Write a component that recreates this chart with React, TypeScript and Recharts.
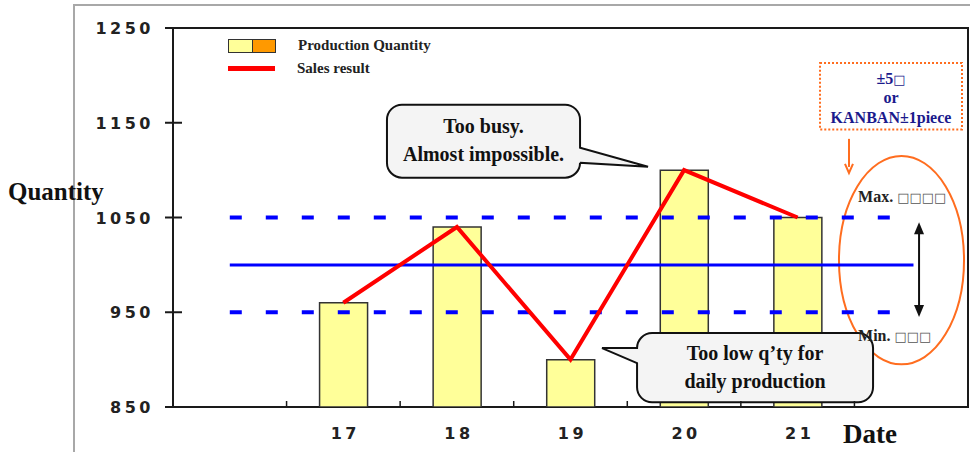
import React from "react";
import {
  ComposedChart,
  Bar,
  Line,
  XAxis,
  YAxis,
  ReferenceLine,
  ReferenceArea,
  ReferenceDot,
  Legend,
  Label,
} from "recharts";

document.body.style.margin = "0";

// production days and the two daily series
const dates = ["", "17", "18", "19", "20", "21", ""];
const production = [null, 960, 1040, 900, 1100, 1050, null];
const sales = [null, 960, 1040, 900, 1100, 1050, null];
const qtyTicks = [850, 950, 1050, 1150, 1250];
const target = 1000;
const upperLimit = 1050;
const lowerLimit = 950;

// "slot" is the centre of each day's band on the numeric overlay axis
const data = dates.map((date, i) => ({
  date,
  slot: i + 0.5,
  production: production[i],
  sales: sales[i],
}));

const SERIF = "'Liberation Serif', 'Times New Roman', serif";
const WIDE = "'DejaVu Sans', sans-serif";
const INK = "#1a1a1a";
const BLUE = "#0000ff";
const ORANGE = "#ff6d1f";
const NAVY = "#1a1a8c";

function QtyTick({ x, y, payload }: any) {
  return (
    <g>
      <line x1={x - 8} x2={x + 9} y1={y} y2={y} stroke={INK} strokeWidth={2} />
      <text
        x={x - 19}
        y={y}
        dy={6}
        textAnchor="end"
        fontFamily={WIDE}
        fontWeight={700}
        fontSize={16}
        letterSpacing={3.5}
        fill="#222"
      >
        {payload.value}
      </text>
    </g>
  );
}

// day label, plus a short upward tick on the left edge of its band
function DayTick({ x, y, payload, index }: any) {
  const edge = x - (payload.offset || 0);
  return (
    <g>
      {index > 0 && <line x1={edge} x2={edge} y1={y} y2={y - 6} stroke={INK} strokeWidth={1.5} />}
      <text
        x={x + 2}
        y={y + 32}
        textAnchor="middle"
        fontFamily={WIDE}
        fontWeight={700}
        fontSize={16}
        letterSpacing={3.5}
        fill="#222"
      >
        {payload.value}
      </text>
    </g>
  );
}

function SeriesKey({ payload }: any) {
  return (
    <div style={{ fontFamily: SERIF, fontWeight: 700, fontSize: 15, color: "#222" }}>
      {(payload || []).map((entry: any) => (
        <div key={entry.value} style={{ display: "flex", alignItems: "center", height: 23 }}>
          {entry.type === "line" ? (
            <span style={{ display: "inline-block", width: 47, height: 5, background: entry.color }} />
          ) : (
            <span style={{ display: "inline-flex", border: "1px solid #333" }}>
              <span style={{ width: 23, height: 12, background: "#ffff99", borderRight: "1px solid #333" }} />
              <span style={{ width: 22, height: 12, background: "#ff9900" }} />
            </span>
          )}
          <span style={{ marginLeft: 22 }}>{entry.value}</span>
        </div>
      ))}
    </div>
  );
}

// speech balloon: rounded box with a pointed tail on one side
function balloonPath(x: number, y: number, w: number, h: number, r: number, tail: any) {
  const right = x + w;
  const bottom = y + h;
  let d = `M${x + r},${y} H${right - r} A${r},${r} 0 0 1 ${right},${y + r}`;
  if (tail.side === "right") {
    d += ` V${y + tail.from} L${right + tail.dx},${y + tail.dy} L${right},${y + tail.to}`;
  }
  d += ` V${bottom - r} A${r},${r} 0 0 1 ${right - r},${bottom} H${x + r} A${r},${r} 0 0 1 ${x},${bottom - r}`;
  if (tail.side === "left") {
    d += ` V${y + tail.to} L${x - tail.dx},${y + tail.dy} L${x},${y + tail.from}`;
  }
  d += ` V${y + r} A${r},${r} 0 0 1 ${x + r},${y} Z`;
  return d;
}

// drawn through a ReferenceLine whose segment runs corner to corner
const callout = (lines: string[], tail: any) => (props: any) => {
  const x = Math.min(props.x1, props.x2);
  const y = Math.min(props.y1, props.y2);
  const width = Math.abs(props.x2 - props.x1);
  const height = Math.abs(props.y2 - props.y1);
  const cx = x + width / 2;
  const mid = y + height / 2;
  return (
    <g>
      <path
        d={balloonPath(x, y, width, height, 15, tail)}
        fill="#f4f4f4"
        stroke="#111"
        strokeWidth={2}
      />
      {lines.map((t, i) => (
        <text
          key={t}
          x={cx}
          y={mid + (i - (lines.length - 1) / 2) * 28 + 6}
          textAnchor="middle"
          fontFamily={SERIF}
          fontWeight={700}
          fontSize={20}
          fill="#111"
        >
          {t}
        </text>
      ))}
    </g>
  );
};

const EllipseShape = ({ x, y, width, height }: any) => (
  <ellipse
    cx={x + width / 2}
    cy={y + height / 2}
    rx={width / 2}
    ry={height / 2}
    fill="none"
    stroke={ORANGE}
    strokeWidth={2}
  />
);

const ToleranceNote = ({ x, y, width, height }: any) => {
  const cx = x + width / 2;
  const common = { x: cx, textAnchor: "middle" as const, fontFamily: SERIF, fontWeight: 700, fontSize: 16, fill: NAVY };
  return (
    <g>
      <rect x={x} y={y} width={width} height={height} fill="#fff" stroke={ORANGE} strokeWidth={2} strokeDasharray="2 2" />
      <text {...common} y={y + 21}>
        ±5<tspan fontFamily={WIDE} fontWeight={400} fontSize={13}>□</tspan>
      </text>
      <text {...common} y={y + 40}>or</text>
      <text {...common} y={y + 60}>KANBAN±1piece</text>
    </g>
  );
};

const DownArrow = ({ x1, y1, x2, y2 }: any) => (
  <g>
    <line x1={x1} y1={y1} x2={x2} y2={y2 - 6} stroke={ORANGE} strokeWidth={2} />
    <path d={`M${x2 - 4},${y2 - 9} L${x2},${y2} L${x2 + 4},${y2 - 9}`} fill="none" stroke={ORANGE} strokeWidth={2} />
  </g>
);

const RangeArrow = ({ x1, y1, x2, y2 }: any) => (
  <g>
    <line x1={x1} y1={y1 + 8} x2={x2} y2={y2 - 8} stroke="#111" strokeWidth={2} />
    <path d={`M${x1 - 5},${y1 + 12} L${x1},${y1} L${x1 + 5},${y1 + 12} Z`} fill="#111" />
    <path d={`M${x2 - 5},${y2 - 12} L${x2},${y2} L${x2 + 5},${y2 - 12} Z`} fill="#111" />
  </g>
);

const limitText = (head: string, boxes: string) => ({ cx, cy }: any) => (
  <text x={cx} y={cy} fontFamily={SERIF} fontWeight={700} fontSize={16} fill="#222">
    {head}{" "}
    <tspan fontFamily={WIDE} fontWeight={400} fontSize={13} fill="#555">
      {boxes}
    </tspan>
  </text>
);

const QuantityTitle = ({ viewBox }: any) =>
  viewBox ? (
    <text x={viewBox.x - 85} y={viewBox.y + 172} fontFamily={SERIF} fontWeight={700} fontSize={25} fill="#111">
      Quantity
    </text>
  ) : null;

const DateTitle = ({ viewBox }: any) =>
  viewBox ? (
    <text x={viewBox.x + 670} y={viewBox.y + 36} fontFamily={SERIF} fontWeight={700} fontSize={27} fill="#111">
      Date
    </text>
  ) : null;

export default function App() {
  return (
    <div style={{ position: "relative", width: 970, height: 452, overflow: "hidden", background: "#fff" }}>
      <div
        style={{
          position: "absolute",
          left: 73,
          top: 4,
          width: 920,
          height: 470,
          borderTop: "2px solid #a8a8a8",
          borderLeft: "2px solid #a8a8a8",
        }}
      />
      <div style={{ position: "absolute", left: 0, top: 0 }}>
        <ComposedChart width={970} height={452} data={data} margin={{ top: 28, right: 2, bottom: 0, left: 93 }}>
          <XAxis
            xAxisId="num"
            dataKey="slot"
            type="number"
            domain={[0, 7]}
            allowDataOverflow
            tick={false}
            tickLine={false}
            height={0}
            axisLine={{ stroke: INK, strokeWidth: 2 }}
          />
          <XAxis
            dataKey="date"
            height={45}
            interval={0}
            tickSize={0}
            tickMargin={0}
            axisLine={false}
            tickLine={false}
            tick={<DayTick />}
          >
            <Label content={<DateTitle />} />
          </XAxis>
          <YAxis
            width={80}
            domain={[850, 1250]}
            ticks={qtyTicks}
            allowDataOverflow
            interval={0}
            tickSize={0}
            tickMargin={0}
            tickLine={false}
            axisLine={{ stroke: INK, strokeWidth: 2 }}
            tick={<QtyTick />}
          >
            <Label content={<QuantityTitle />} />
          </YAxis>
          <Legend
            layout="vertical"
            align="center"
            verticalAlign="middle"
            width={260}
            wrapperStyle={{ left: 228, top: 34 }}
            content={<SeriesKey />}
          />
          <ReferenceArea
            xAxisId="num"
            x1={0}
            x2={7}
            y1={850}
            y2={1250}
            fill="none"
            fillOpacity={0}
            stroke={INK}
            strokeWidth={2}
            ifOverflow="visible"
          />
          <Bar
            dataKey="production"
            name="Production Quantity"
            barSize={48}
            fill="#ffff99"
            stroke="#333"
            strokeWidth={1.5}
            isAnimationActive={false}
          />
          <ReferenceLine
            xAxisId="num"
            segment={[{ x: 0.5, y: upperLimit }, { x: 6.5, y: upperLimit }]}
            stroke={BLUE}
            strokeWidth={4}
            strokeDasharray="12 24"
            ifOverflow="visible"
          />
          <ReferenceLine
            xAxisId="num"
            segment={[{ x: 0.5, y: target }, { x: 6.52, y: target }]}
            stroke={BLUE}
            strokeWidth={3}
            ifOverflow="visible"
          />
          <ReferenceLine
            xAxisId="num"
            segment={[{ x: 0.5, y: lowerLimit }, { x: 6.5, y: lowerLimit }]}
            stroke={BLUE}
            strokeWidth={4}
            strokeDasharray="12 24"
            ifOverflow="visible"
          />
          <Line
            dataKey="sales"
            name="Sales result"
            type="linear"
            stroke="#ff0000"
            strokeWidth={4}
            dot={false}
            activeDot={false}
            legendType="line"
            isAnimationActive={false}
          />
          <ReferenceArea
            xAxisId="num"
            x1={5.864}
            x2={6.965}
            y1={895}
            y2={1115}
            ifOverflow="visible"
            shape={<EllipseShape />}
          />
          <ReferenceArea
            xAxisId="num"
            x1={5.697}
            x2={6.947}
            y1={1143}
            y2={1213}
            ifOverflow="visible"
            shape={<ToleranceNote />}
          />
          <ReferenceLine
            xAxisId="num"
            segment={[{ x: 5.952, y: 1133 }, { x: 5.952, y: 1097 }]}
            ifOverflow="visible"
            shape={<DownArrow />}
          />
          <ReferenceLine
            xAxisId="num"
            segment={[{ x: 6.569, y: upperLimit - 5 }, { x: 6.569, y: lowerLimit - 5 }]}
            ifOverflow="visible"
            shape={<RangeArrow />}
          />
          <ReferenceDot
            xAxisId="num"
            x={6.032}
            y={1066}
            r={0}
            ifOverflow="visible"
            shape={limitText("Max.", "□□□□")}
          />
          <ReferenceDot
            xAxisId="num"
            x={6.032}
            y={920}
            r={0}
            ifOverflow="visible"
            shape={limitText("Min.", "□□□")}
          />
          <ReferenceLine
            xAxisId="num"
            segment={[{ x: 1.884, y: 1169 }, { x: 3.584, y: 1092 }]}
            ifOverflow="visible"
            shape={callout(["Too busy.", "Almost impossible."], { side: "right", from: 43, to: 58, dx: 68, dy: 62 })}
          />
          <ReferenceLine
            xAxisId="num"
            segment={[{ x: 4.086, y: 928 }, { x: 6.164, y: 855 }]}
            ifOverflow="visible"
            shape={callout(["Too low q’ty for", "daily production"], { side: "left", from: 15, to: 30, dx: 35, dy: 15 })}
          />
        </ComposedChart>
      </div>
    </div>
  );
}
